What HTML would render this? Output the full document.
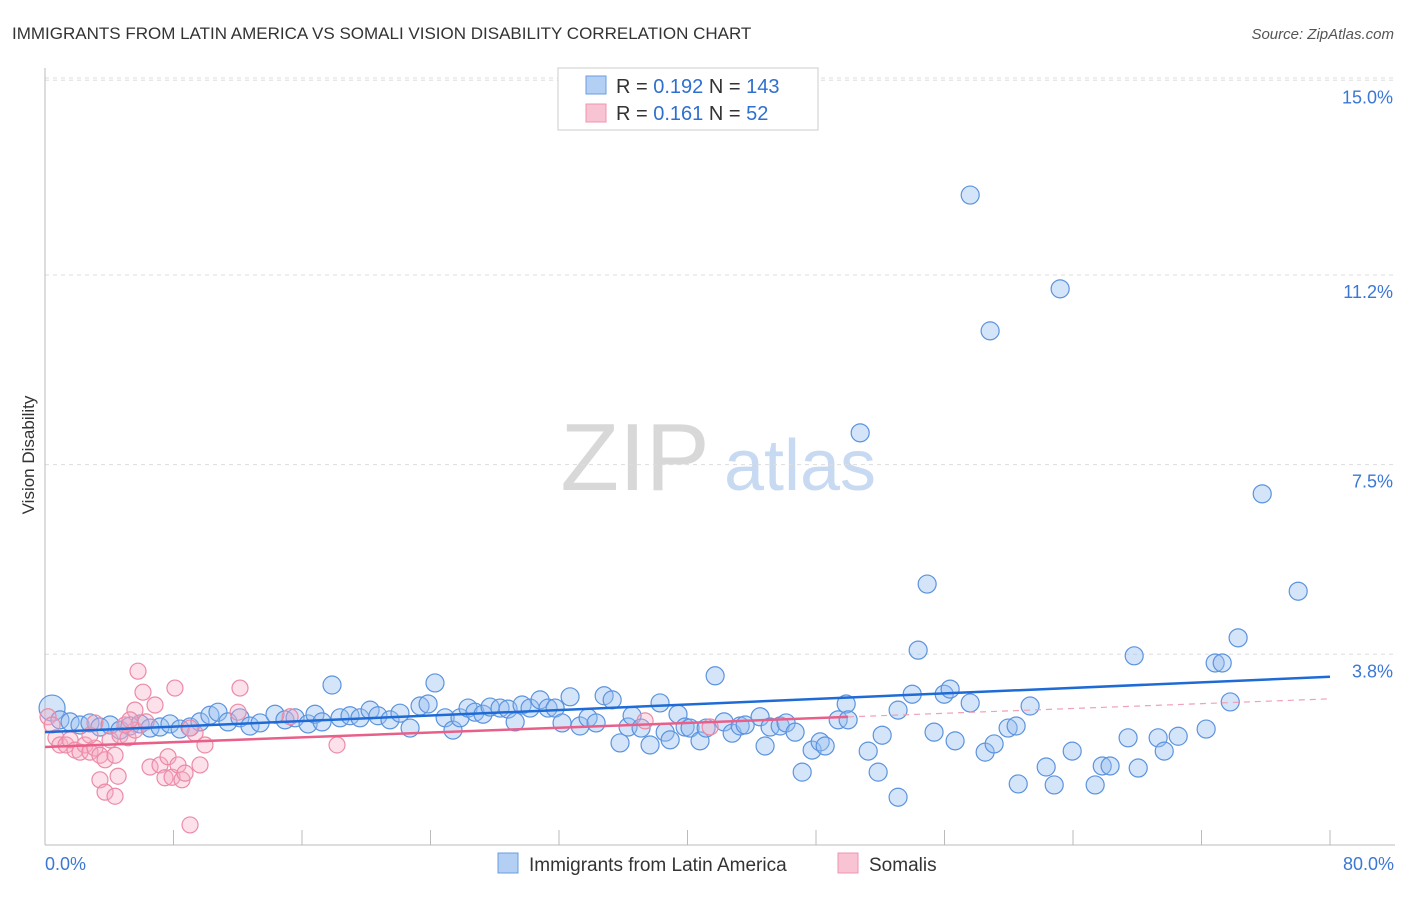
<!DOCTYPE html>
<html><head><meta charset="utf-8"><style>
body{margin:0;background:#fff;font-family:"Liberation Sans",sans-serif;}
svg text{font-family:"Liberation Sans",sans-serif;}
</style></head><body>
<svg id="c" width="1406" height="892" xmlns="http://www.w3.org/2000/svg">
<text x="12" y="39" font-size="17" fill="#333">IMMIGRANTS FROM LATIN AMERICA VS SOMALI VISION DISABILITY CORRELATION CHART</text>
<text x="1394" y="39" font-size="15" fill="#555" font-style="italic" text-anchor="end">Source: ZipAtlas.com</text>
<text x="34" y="455" font-size="17" fill="#333" text-anchor="middle" transform="rotate(-90 34 455)">Vision Disability</text>
<g><text x="635" y="490" font-size="96" fill="#d8d8d8" font-family="Liberation Serif,serif" text-anchor="middle">ZIP</text><text x="800" y="490" font-size="72" fill="#c8daf2" text-anchor="middle">atlas</text></g>
<g id="grid"></g><g id="axes"></g><g id="pts"></g><g id="trend"></g>
<g>
<rect x="558" y="68" width="260" height="62" fill="#fff" stroke="#ccc"/>
<rect x="586" y="76" width="20" height="18" fill="#b3cff3" stroke="#6a9ee0"/>
<rect x="586" y="104" width="20" height="18" fill="#f8c4d3" stroke="#ee95ae"/>
<text x="616" y="93" font-size="20" fill="#333">R = <tspan fill="#2f6fd0">0.192</tspan>   N = <tspan fill="#2f6fd0">143</tspan></text>
<text x="616" y="120" font-size="20" fill="#333">R =  <tspan fill="#2f6fd0">0.161</tspan>   N =   <tspan fill="#2f6fd0">52</tspan></text>
</g>
<g>
<rect x="498" y="853" width="20" height="20" fill="#b3cff3" stroke="#6a9ee0"/>
<text x="529" y="871" font-size="19" fill="#333">Immigrants from Latin America</text>
<rect x="838" y="853" width="20" height="20" fill="#f8c4d3" stroke="#ee95ae"/>
<text x="869" y="871" font-size="19" fill="#333">Somalis</text>
</g>
</svg>
<script>
const yTicks=[3.8,7.5,11.2,15.0];
const yTickLabels=["3.8%","7.5%","11.2%","15.0%"];
const xTickLabels=["0.0%","80.0%"];
const blueX=[0.44,0.93,1.56,2.18,2.80,3.42,4.05,4.67,5.29,5.92,6.54,7.16,7.78,8.41,9.03,9.65,10.27,10.77,11.39,12.14,12.76,13.39,14.32,14.94,15.57,16.38,16.81,17.25,17.87,18.37,18.99,19.61,20.24,20.73,21.48,22.10,22.73,23.35,23.85,24.28,24.91,25.40,25.84,26.34,26.77,27.27,27.71,28.33,28.83,29.27,29.70,30.20,30.82,31.32,31.76,32.19,32.69,33.31,33.81,34.31,34.81,35.31,35.80,36.30,36.55,37.11,37.67,38.29,38.61,38.92,39.41,39.85,40.16,40.78,41.16,41.72,42.28,42.78,43.28,43.59,44.52,44.83,45.14,45.77,46.14,46.70,47.14,47.76,48.26,48.57,49.38,49.88,50.00,50.75,51.25,51.87,52.12,53.11,53.11,53.99,54.36,54.92,55.35,55.98,56.35,56.66,57.60,57.60,58.53,58.84,59.09,59.96,60.46,60.59,61.33,62.33,62.83,63.20,63.95,65.38,65.82,66.31,67.43,67.81,68.06,69.30,69.68,70.55,72.29,72.85,73.29,73.79,74.28,75.78,78.02];
const blueY=[2.75,2.52,2.48,2.42,2.46,2.38,2.42,2.32,2.40,2.44,2.36,2.38,2.44,2.34,2.38,2.48,2.61,2.67,2.48,2.56,2.40,2.46,2.63,2.52,2.56,2.44,2.63,2.48,3.20,2.56,2.60,2.56,2.71,2.60,2.52,2.65,2.36,2.79,2.83,3.24,2.56,2.32,2.56,2.75,2.67,2.63,2.77,2.75,2.73,2.48,2.81,2.75,2.91,2.75,2.75,2.46,2.97,2.40,2.56,2.46,2.99,2.91,2.07,2.38,2.60,2.36,2.03,2.85,2.28,2.13,2.63,2.38,2.36,2.11,2.36,3.38,2.48,2.26,2.40,2.42,2.58,2.01,2.38,2.40,2.46,2.28,1.50,1.93,2.09,2.01,2.52,2.83,2.52,8.12,1.91,1.50,2.22,2.71,1.01,3.02,3.88,5.17,2.28,3.02,3.12,2.11,2.85,12.76,1.89,10.11,2.05,2.36,2.40,1.27,2.79,1.60,1.25,10.93,1.91,1.25,1.62,1.62,2.17,3.77,1.58,2.17,1.91,2.20,2.34,3.63,3.63,2.87,4.12,6.93,5.03];
const pinkX=[0.19,0.44,0.68,0.93,1.31,1.56,1.87,2.18,2.49,2.80,3.11,3.42,3.74,4.05,4.36,4.67,5.17,5.60,5.79,6.10,6.29,6.54,6.85,7.16,7.47,7.66,7.91,8.09,8.28,8.53,8.72,9.34,9.65,9.96,9.03,3.42,3.74,4.36,4.55,4.98,2.80,12.14,12.02,15.26,18.18,3.11,37.36,41.41,9.03,5.60,5.29];
const pinkY=[2.58,2.42,2.17,2.03,2.03,2.13,1.93,1.89,2.03,1.89,1.97,1.83,1.74,2.13,1.83,2.22,2.17,2.32,3.47,3.06,2.48,1.60,2.81,1.64,1.39,1.80,1.40,3.14,1.64,1.35,1.48,2.26,1.64,2.03,0.47,1.35,1.11,1.03,1.42,2.42,2.22,3.14,2.67,2.58,2.03,2.46,2.50,2.38,2.36,2.71,2.52];
const blueTrend=[2.28,3.36];   // y at x=0 and x=80
const pinkTrend=[1.99,2.93];   // y at x=0 and x=80 (solid to 50)
const NS="http://www.w3.org/2000/svg";
const X0=45,X1=1330,Y0=849,PPY=51.25;
const sx=v=>X0+v/80*(X1-X0);
const sy=v=>Y0-v*PPY;
function mk(tag,attrs,parent){const e=document.createElementNS(NS,tag);for(const k in attrs)e.setAttribute(k,attrs[k]);parent.appendChild(e);return e;}
const grid=document.getElementById('grid'),axes=document.getElementById('axes'),pts=document.getElementById('pts'),trend=document.getElementById('trend');
yTicks.forEach((t,i)=>{
 const l=mk('line',{x1:X0,x2:1395,y1:sy(t),y2:sy(t),stroke:'#ddd','stroke-dasharray':'4,4'},grid);
 
 
 const tx=mk('text',{x:1393,y:sy(t)+23,'font-size':18,fill:'#3a78d4','text-anchor':'end'},axes);
 tx.textContent=yTickLabels[i];
 
 
});
const topL=mk('line',{x1:X0,x2:1395,y1:78,y2:78,stroke:'#ddd','stroke-dasharray':'4,4'},grid);


const ya=mk('line',{x1:X0,x2:X0,y1:68,y2:845,stroke:'#bbb'},axes);


const xa=mk('line',{x1:X0,x2:1395,y1:845,y2:845,stroke:'#bbb'},axes);


for(let k=0;k<=10;k++){
 const t=mk('line',{x1:sx(k*8),x2:sx(k*8),y1:830,y2:845,stroke:'#bbb'},axes);
 
 
}
[[0,'start',45],[80,'end',1394]].forEach((d,i)=>{
 const tx=mk('text',{x:d[2],y:870,'font-size':18,fill:'#3a78d4','text-anchor':d[1]},axes);
 tx.textContent=xTickLabels[i];
 
 
});
blueX.forEach((x,i)=>{
 const c=mk('circle',{cx:sx(x),cy:sy(blueY[i]),r:i===0?13:9,fill:'rgba(150,190,240,0.4)',stroke:'#5b93de','stroke-width':1.2},pts);
 
 
});
pinkX.forEach((x,i)=>{
 const c=mk('circle',{cx:sx(x),cy:sy(pinkY[i]),r:8,fill:'rgba(245,170,195,0.35)',stroke:'#ec8aa6','stroke-width':1.2},pts);
 
 
});
const bl=mk('line',{x1:sx(0),y1:sy(blueTrend[0]),x2:sx(80),y2:sy(blueTrend[1]),stroke:'#1f6bd6','stroke-width':2.5},trend);


const pAt=x=>pinkTrend[0]+(pinkTrend[1]-pinkTrend[0])*x/80;
const pl=mk('line',{x1:sx(0),y1:sy(pAt(0)),x2:sx(50),y2:sy(pAt(50)),stroke:'#e8608a','stroke-width':2.5},trend);


const pd=mk('line',{x1:sx(50),y1:sy(pAt(50)),x2:sx(80),y2:sy(pAt(80)),stroke:'#f0a0b8','stroke-width':1.2,'stroke-dasharray':'6,5'},trend);


</script>
</body></html>
